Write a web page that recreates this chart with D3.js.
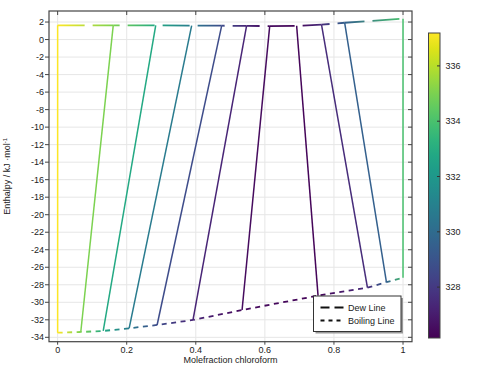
<!DOCTYPE html>
<html>
<head>
<meta charset="utf-8">
<script src="https://cdn.jsdelivr.net/npm/d3@7"></script>
<style>
  body { margin: 0; background: #fff; }
  text { font-family: "Liberation Sans", Arial, sans-serif; font-size: 9px; fill: #222; }
</style>
</head>
<body>
<svg id="chart" width="479" height="366"></svg>
<script>
'use strict';

// tie lines: temperature (K), liquid (boiling) point, vapour (dew) point
var tempK = [337.19, 335.0, 332.8, 330.7, 328.7, 327.3, 326.5, 326.3, 327.5, 329.5, 334.0];
var liqX = [0, 0.067, 0.132, 0.207, 0.288, 0.392, 0.534, 0.754, 0.897, 0.952, 1];
var liqH = [-33.47, -33.39, -33.27, -32.97, -32.59, -32.02, -30.88, -29.24, -28.33, -27.71, -27.19];
var vapX = [0, 0.161, 0.284, 0.388, 0.475, 0.547, 0.614, 0.692, 0.764, 0.831, 1];
var vapH = [1.63, 1.62, 1.61, 1.60, 1.58, 1.56, 1.54, 1.57, 1.70, 1.92, 2.38];

var xTicks = [0, 0.2, 0.4, 0.6, 0.8, 1];
var yTicks = d3.range(-34, 3, 2);
var cTicks = [328, 330, 332, 334, 336];
var tRange = [326.16, 337.19];
var legendNames = ["Dew Line", "Boiling Line"];

var svg = d3.select("#chart"),
    pLeft = 49, pRight = 412, pTop = 11, pBottom = 341.7;

var x = d3.scaleLinear().domain([-0.025, 1.026]).range([pLeft, pRight]);
var y = d3.scaleLinear().domain([-34.5, 3.26]).range([pBottom, pTop]);
var color = d3.scaleSequential(d3.interpolateViridis).domain(tRange);

var defs = svg.append("defs");
defs.append("clipPath").attr("id", "plotClip")
    .append("rect").attr("x", pLeft).attr("y", pTop)
    .attr("width", pRight - pLeft).attr("height", pBottom - pTop);

// grid
var grid = svg.append("g").attr("stroke", "#e6e6e6").attr("stroke-width", 1);
xTicks.forEach(function(t) {
    grid.append("line").attr("x1", x(t)).attr("x2", x(t)).attr("y1", pTop).attr("y2", pBottom);
});
yTicks.forEach(function(t) {
    grid.append("line").attr("x1", pLeft).attr("x2", pRight).attr("y1", y(t)).attr("y2", y(t));
});

var plot = svg.append("g").attr("clip-path", "url(#plotClip)");

// coloured, dashed curve drawn segment by segment so the dash pattern runs on
var gradId = 0;
function colouredCurve(xs, hs, dash, width) {
    var run = 0;
    for (var i = 0; i < xs.length - 1; i++) {
        var x0 = x(xs[i]), y0 = y(hs[i]), x1 = x(xs[i + 1]), y1 = y(hs[i + 1]);
        var id = "g" + (gradId++);
        var g = defs.append("linearGradient").attr("id", id)
            .attr("gradientUnits", "userSpaceOnUse")
            .attr("x1", x0).attr("y1", y0).attr("x2", x1).attr("y2", y1);
        g.append("stop").attr("offset", 0).attr("stop-color", color(tempK[i]));
        g.append("stop").attr("offset", 1).attr("stop-color", color(tempK[i + 1]));
        plot.append("line")
            .attr("x1", x0).attr("y1", y0).attr("x2", x1).attr("y2", y1)
            .attr("stroke", "url(#" + id + ")")
            .attr("stroke-width", width)
            .attr("stroke-dasharray", dash)
            .attr("stroke-dashoffset", run);
        run += Math.hypot(x1 - x0, y1 - y0);
    }
}

colouredCurve(vapX, vapH, "27,8", 1.8);
colouredCurve(liqX, liqH, "5,4.5", 1.8);

// tie lines
tempK.forEach(function(t, i) {
    plot.append("line")
        .attr("x1", x(liqX[i])).attr("y1", y(liqH[i]))
        .attr("x2", x(vapX[i])).attr("y2", y(vapH[i]))
        .attr("stroke", color(t))
        .attr("stroke-width", 1.5);
});

// frame and ticks
var axisColor = "#444";
svg.append("rect").attr("x", pLeft).attr("y", pTop)
    .attr("width", pRight - pLeft).attr("height", pBottom - pTop)
    .attr("fill", "none").attr("stroke", axisColor).attr("stroke-width", 1.2);

var ticks = svg.append("g").attr("stroke", axisColor).attr("stroke-width", 1);
xTicks.forEach(function(t) {
    ticks.append("line").attr("x1", x(t)).attr("x2", x(t)).attr("y1", pBottom).attr("y2", pBottom + 3);
    ticks.append("line").attr("x1", x(t)).attr("x2", x(t)).attr("y1", pTop).attr("y2", pTop + 4);
});
yTicks.forEach(function(t) {
    ticks.append("line").attr("x1", pLeft - 4).attr("x2", pLeft).attr("y1", y(t)).attr("y2", y(t));
    ticks.append("line").attr("x1", pRight - 4).attr("x2", pRight).attr("y1", y(t)).attr("y2", y(t));
});

svg.append("g").selectAll("text").data(xTicks).join("text")
    .attr("x", function(d) { return x(d); })
    .attr("y", pBottom + 10.8)
    .attr("text-anchor", "middle")
    .text(function(d) { return d3.format("~g")(d); });

svg.append("g").selectAll("text").data(yTicks).join("text")
    .attr("x", pLeft - 5)
    .attr("y", function(d) { return y(d) + 3; })
    .attr("text-anchor", "end")
    .text(function(d) { return d; });

svg.append("text")
    .attr("x", (pLeft + pRight) / 2).attr("y", 362.5)
    .attr("text-anchor", "middle")
    .text("Molefraction chloroform");

var yTitle = svg.append("text")
    .attr("transform", "translate(10," + ((pTop + pBottom) / 2) + ") rotate(-90)")
    .attr("text-anchor", "middle");
yTitle.append("tspan").text("Enthalpy / kJ ·mol");
yTitle.append("tspan").attr("dy", -3).style("font-size", "6px").text("-1");

// legend
var lg = svg.append("g").attr("transform", "translate(313.5,296)");
lg.append("rect").attr("x", 2).attr("y", 2).attr("width", 87.5).attr("height", 35.5)
    .attr("fill", "#999");
lg.append("rect").attr("width", 87.5).attr("height", 35.5)
    .attr("fill", "#fff").attr("stroke", "#333").attr("stroke-width", 1);
[["9,5", 11.5], ["4,4", 24.5]].forEach(function(s, i) {
    lg.append("line").attr("x1", 7).attr("x2", 30).attr("y1", s[1]).attr("y2", s[1])
        .attr("stroke", "#111").attr("stroke-width", 1.8)
        .attr("stroke-dasharray", s[0]);
    lg.append("text").attr("x", 34.5).attr("y", s[1] + 3.2).text(legendNames[i]);
});

// colour bar
var cbX = 428.5, cbW = 11.5, cbTop = 33, cbBot = 338;
var cy = d3.scaleLinear().domain(tRange).range([cbBot, cbTop]);
var cg = defs.append("linearGradient").attr("id", "cbar")
    .attr("x1", 0).attr("y1", 1).attr("x2", 0).attr("y2", 0);
d3.range(0, 1.0001, 0.05).forEach(function(f) {
    cg.append("stop").attr("offset", f).attr("stop-color", d3.interpolateViridis(f));
});
svg.append("rect").attr("x", cbX).attr("y", cbTop).attr("width", cbW).attr("height", cbBot - cbTop)
    .attr("fill", "url(#cbar)").attr("stroke", "#444").attr("stroke-width", 1);
cTicks.forEach(function(t) {
    svg.append("line").attr("x1", cbX + cbW - 3).attr("x2", cbX + cbW).attr("y1", cy(t)).attr("y2", cy(t))
        .attr("stroke", "#333").attr("stroke-width", 1);
    svg.append("text").attr("x", cbX + cbW + 5.5).attr("y", cy(t) + 3.2).text(t);
});
</script>
</body>
</html>
